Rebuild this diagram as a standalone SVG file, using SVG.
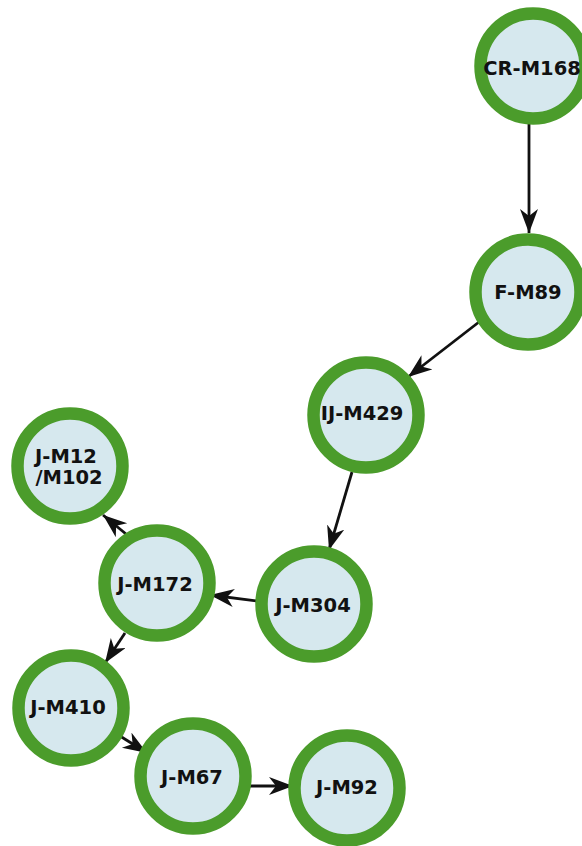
<svg xmlns="http://www.w3.org/2000/svg" width="582" height="846" viewBox="0 0 582 846">
  <style>
    .node circle { fill: #d6e8ee; stroke: #4b9c2b; stroke-width: 12.5; }
    .node text { font-family: "DejaVu Sans", Verdana, sans-serif; font-weight: bold; font-size: 19.5px; fill: #111; text-anchor: middle; }
    .edges line { stroke: #111; stroke-width: 2.8; marker-end: url(#arrow); }
  </style>
  <defs>
    <marker id="arrow" markerUnits="userSpaceOnUse" markerWidth="28" markerHeight="20" refX="24" refY="9" orient="auto">
      <path d="M0,0 L24,9 L0,18 L7,9 z" fill="#111"/>
    </marker>
  </defs>
  <rect width="582" height="846" fill="#fff"/>

  <g class="edges">
    <line x1="529" y1="124" x2="529" y2="233"/>
    <line x1="479" y1="322" x2="408" y2="377"/>
    <line x1="352" y1="472" x2="329" y2="550"/>
    <line x1="257" y1="601" x2="210" y2="595"/>
    <line x1="126" y1="534" x2="103" y2="515"/>
    <line x1="125" y1="633" x2="105" y2="663"/>
    <line x1="120" y1="736" x2="147" y2="753"/>
    <line x1="250" y1="786" x2="293" y2="786"/>
  </g>

  <g id="cr-m168" class="node">
    <circle cx="533" cy="66" r="52.5"/>
    <text x="532" y="75">CR-M168</text>
  </g>
  <g id="f-m89" class="node">
    <circle cx="528" cy="292" r="52.5"/>
    <text x="528" y="299">F-M89</text>
  </g>
  <g id="ij-m429" class="node">
    <circle cx="366" cy="415" r="52.5"/>
    <text x="362" y="420">IJ-M429</text>
  </g>
  <g id="j-m12-m102" class="node">
    <circle cx="70" cy="466" r="52.5"/>
    <text x="66" y="463">J-M12</text>
    <text x="69" y="484">/M102</text>
  </g>
  <g id="j-m172" class="node">
    <circle cx="157" cy="583" r="52.5"/>
    <text x="155" y="591">J-M172</text>
  </g>
  <g id="j-m304" class="node">
    <circle cx="314" cy="604" r="52.5"/>
    <text x="313" y="612">J-M304</text>
  </g>
  <g id="j-m410" class="node">
    <circle cx="71" cy="708" r="52.5"/>
    <text x="68" y="714">J-M410</text>
  </g>
  <g id="j-m67" class="node">
    <circle cx="193" cy="776" r="52.5"/>
    <text x="192" y="784">J-M67</text>
  </g>
  <g id="j-m92" class="node">
    <circle cx="347" cy="788" r="52.5"/>
    <text x="347" y="794">J-M92</text>
  </g>
</svg>
